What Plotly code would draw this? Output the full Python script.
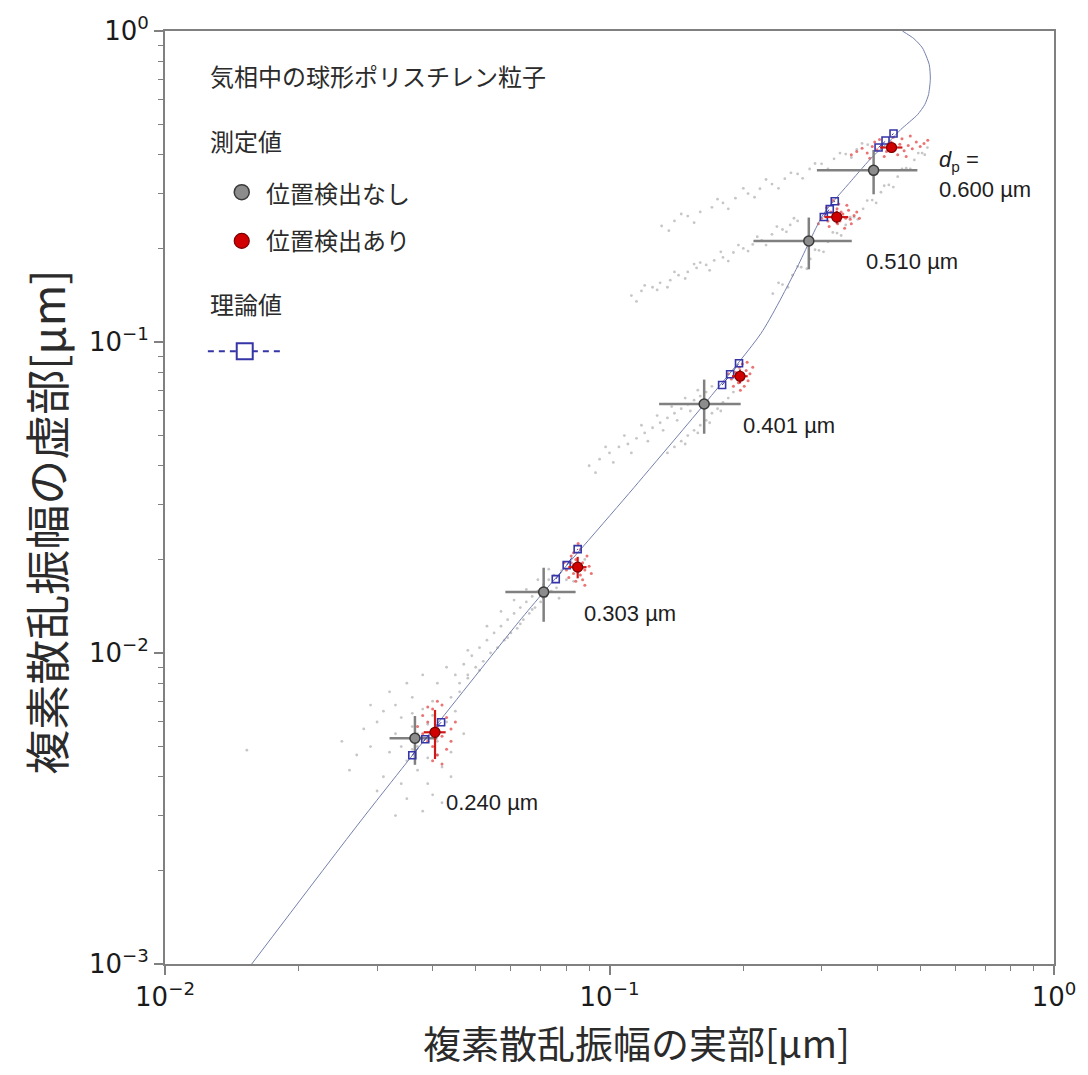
import plotly.graph_objects as go

# ---------------- data ----------------
size_labels = ["0.240 µm", "0.303 µm", "0.401 µm", "0.510 µm", "0.600 µm"]

# theoretical curve
curve_x = [0.01567, 0.0278, 0.0625, 0.0711, 0.116, 0.219, 0.2626, 0.303, 0.350, 0.391, 0.425, 0.452, 0.493, 0.512,
           0.522, 0.527, 0.524, 0.506, 0.484, 0.456]
curve_y = [0.001, 0.00293, 0.0126, 0.0157, 0.0353, 0.1064, 0.1706, 0.258, 0.330, 0.395, 0.440, 0.482, 0.538, 0.580,
           0.624, 0.700, 0.780, 0.882, 0.945, 1.0]

# theory values per particle size (squares)
theory_x = [[0.0360, 0.0385, 0.0418], [0.0757, 0.0801, 0.0848], [0.1792, 0.1868, 0.1956],
            [0.3035, 0.3130, 0.3212], [0.4030, 0.4178, 0.4355]]
theory_y = [[0.00469, 0.00528, 0.00599], [0.01728, 0.01916, 0.02157], [0.0727, 0.0788, 0.0854],
            [0.2522, 0.2675, 0.2836], [0.4221, 0.4444, 0.4680]]

# mean values without position detection (gray)
gray_mean_x = [0.0365, 0.0711, 0.1633, 0.2808, 0.3928]
gray_mean_y = [0.00532, 0.0157, 0.0632, 0.2113, 0.3565]
gray_err_x = [0.0045, 0.0128, 0.034, 0.070, 0.100]
gray_err_y = [0.00095, 0.0031, 0.0125, 0.040, 0.058]

# mean values with position detection (red)
red_mean_x = [0.0405, 0.0848, 0.1966, 0.3245, 0.4310]
red_mean_y = [0.00556, 0.01888, 0.0776, 0.2522, 0.4221]
red_err_x = [0.0023, 0.004, 0.008, 0.020, 0.025]
red_err_y = [0.0010, 0.0015, 0.004, 0.012, 0.015]

# individual particles, no position detection (gray dots)
gray_240_x = [0.030, 0.032, 0.034, 0.035, 0.036, 0.037, 0.038, 0.033, 0.039, 0.040, 0.041, 0.043, 0.044, 0.029, 0.027,
              0.031, 0.034, 0.037, 0.042, 0.045, 0.046, 0.036, 0.033, 0.031, 0.028, 0.026, 0.030, 0.035, 0.039, 0.041,
              0.038, 0.043, 0.047, 0.048, 0.040, 0.044, 0.032, 0.035, 0.029, 0.025, 0.033, 0.038, 0.042, 0.036, 0.037,
              0.034, 0.039, 0.040, 0.041, 0.036, 0.01528]
gray_240_y = [0.0060, 0.0048, 0.0062, 0.0045, 0.0058, 0.0050, 0.0066, 0.0055, 0.0046, 0.0070, 0.0052, 0.0060, 0.0048,
              0.0050, 0.0047, 0.0040, 0.0038, 0.0042, 0.0043, 0.0065, 0.0075, 0.0072, 0.0068, 0.0065, 0.0057, 0.0042,
              0.0036, 0.0034, 0.0038, 0.0080, 0.0085, 0.0090, 0.0055, 0.0085, 0.0035, 0.0040, 0.0075, 0.0080, 0.0068,
              0.0052, 0.0030, 0.0031, 0.0033, 0.0064, 0.0055, 0.0050, 0.0059, 0.0063, 0.0047, 0.0049, 0.00487]
gray_303_x = [0.044, 0.045, 0.046, 0.047, 0.048, 0.049, 0.050, 0.051, 0.052, 0.053, 0.054, 0.055, 0.056, 0.057, 0.058,
              0.059, 0.060, 0.061, 0.062, 0.063, 0.064, 0.065, 0.066, 0.067, 0.068, 0.069, 0.070, 0.071, 0.072, 0.073,
              0.074, 0.075, 0.076, 0.078, 0.080, 0.082, 0.085, 0.088, 0.053, 0.057, 0.061, 0.065, 0.069, 0.073, 0.059,
              0.063, 0.067, 0.071, 0.048, 0.051, 0.077, 0.083]
gray_303_y = [0.0072, 0.0085, 0.0080, 0.0092, 0.0083, 0.0098, 0.0090, 0.0104, 0.0094, 0.0110, 0.0100, 0.0116, 0.0104,
              0.0122, 0.0110, 0.0128, 0.0116, 0.0134, 0.0120, 0.0140, 0.0128, 0.0146, 0.0134, 0.0152, 0.0140, 0.0158,
              0.0146, 0.0166, 0.0152, 0.0172, 0.0158, 0.0178, 0.0162, 0.0184, 0.0172, 0.0190, 0.0182, 0.0200, 0.0122,
              0.0136, 0.0148, 0.0160, 0.0172, 0.0186, 0.0112, 0.0124, 0.0138, 0.0150, 0.0102, 0.0088, 0.0150, 0.0170]
gray_401_x = [0.090, 0.095, 0.100, 0.105, 0.110, 0.115, 0.120, 0.125, 0.130, 0.135, 0.140, 0.145, 0.150, 0.155, 0.160,
              0.165, 0.098, 0.108, 0.118, 0.128, 0.138, 0.148, 0.158, 0.102, 0.112, 0.122, 0.132, 0.142, 0.152, 0.162,
              0.093, 0.170, 0.140, 0.145, 0.150, 0.155, 0.160, 0.165, 0.170, 0.175, 0.180, 0.185, 0.190, 0.148, 0.158,
              0.168, 0.178, 0.135]
gray_401_y = [0.040, 0.042, 0.044, 0.046, 0.047, 0.049, 0.051, 0.053, 0.055, 0.057, 0.059, 0.061, 0.063, 0.065, 0.067,
              0.069, 0.046, 0.050, 0.054, 0.058, 0.062, 0.066, 0.070, 0.041, 0.044, 0.048, 0.052, 0.056, 0.060, 0.064,
              0.038, 0.072, 0.046, 0.048, 0.050, 0.052, 0.054, 0.056, 0.059, 0.061, 0.064, 0.066, 0.069, 0.047, 0.051,
              0.055, 0.060, 0.044]
gray_510_x = [0.112, 0.118, 0.125, 0.130, 0.137, 0.143, 0.150, 0.157, 0.165, 0.172, 0.180, 0.190, 0.200, 0.210, 0.220,
              0.232, 0.245, 0.255, 0.265, 0.120, 0.128, 0.140, 0.148, 0.160, 0.168, 0.178, 0.185, 0.195, 0.205, 0.215,
              0.225, 0.238, 0.250, 0.260, 0.115, 0.135, 0.155,
              0.233, 0.245, 0.258, 0.270, 0.283, 0.296, 0.310, 0.325, 0.340, 0.355, 0.240, 0.252, 0.265, 0.278, 0.290,
              0.303, 0.318, 0.332, 0.348]
gray_510_y = [0.141, 0.146, 0.150, 0.155, 0.158, 0.164, 0.168, 0.173, 0.177, 0.183, 0.187, 0.194, 0.200, 0.206, 0.212,
              0.222, 0.230, 0.238, 0.245, 0.152, 0.147, 0.168, 0.160, 0.180, 0.170, 0.195, 0.182, 0.205, 0.196, 0.218,
              0.205, 0.235, 0.226, 0.250, 0.135, 0.150, 0.178,
              0.143, 0.153, 0.164, 0.174, 0.185, 0.197, 0.210, 0.224, 0.238, 0.252, 0.155, 0.150, 0.175, 0.172, 0.198,
              0.195, 0.225, 0.220, 0.252]
gray_600_x = [0.131, 0.140, 0.150, 0.160, 0.170, 0.180, 0.192, 0.205, 0.218, 0.232, 0.248, 0.265, 0.282, 0.300, 0.320,
              0.340, 0.360, 0.381, 0.145, 0.155, 0.175, 0.185, 0.200, 0.212, 0.225, 0.240, 0.256, 0.272, 0.290, 0.310,
              0.330, 0.350, 0.370, 0.136,
              0.372, 0.390, 0.408, 0.425, 0.445, 0.465, 0.485, 0.505, 0.519, 0.362, 0.380, 0.398, 0.415, 0.435, 0.455,
              0.475, 0.495, 0.512]
gray_600_y = [0.236, 0.245, 0.254, 0.262, 0.271, 0.280, 0.290, 0.300, 0.311, 0.322, 0.335, 0.347, 0.360, 0.374, 0.388,
              0.402, 0.416, 0.431, 0.258, 0.242, 0.288, 0.268, 0.312, 0.292, 0.333, 0.312, 0.350, 0.336, 0.375, 0.360,
              0.405, 0.392, 0.435, 0.228,
              0.268, 0.286, 0.303, 0.320, 0.340, 0.362, 0.385, 0.405, 0.422, 0.248, 0.285, 0.280, 0.318, 0.315, 0.360,
              0.360, 0.405, 0.400]

# individual particles, with position detection (red dots)
red_240_x = [0.038, 0.039, 0.040, 0.041, 0.042, 0.043, 0.040, 0.041, 0.039, 0.042, 0.044, 0.038, 0.043, 0.040, 0.041,
             0.045, 0.037, 0.042, 0.039, 0.044]
red_240_y = [0.0055, 0.0060, 0.0050, 0.0058, 0.0054, 0.0062, 0.0066, 0.0047, 0.0052, 0.0068, 0.0057, 0.0063, 0.0049,
             0.0045, 0.0070, 0.0060, 0.0058, 0.0044, 0.0067, 0.0052]
red_303_x = [0.080, 0.082, 0.083, 0.084, 0.085, 0.086, 0.087, 0.088, 0.089, 0.090, 0.081, 0.083, 0.086, 0.084, 0.087,
             0.091, 0.079, 0.085, 0.088, 0.082, 0.086, 0.084, 0.083, 0.087]
red_303_y = [0.0185, 0.0195, 0.0180, 0.0200, 0.0188, 0.0178, 0.0195, 0.0185, 0.0205, 0.0190, 0.0175, 0.0210, 0.0215,
             0.0170, 0.0172, 0.0180, 0.0195, 0.0225, 0.0165, 0.0205, 0.0192, 0.0186, 0.0192, 0.0188]
red_401_x = [0.188, 0.192, 0.195, 0.198, 0.200, 0.203, 0.205, 0.190, 0.196, 0.201, 0.207, 0.193, 0.199, 0.185, 0.210,
             0.197, 0.204, 0.194]
red_401_y = [0.076, 0.080, 0.074, 0.079, 0.076, 0.081, 0.075, 0.072, 0.083, 0.072, 0.079, 0.077, 0.085, 0.079, 0.083,
             0.070, 0.086, 0.078]
red_510_x = [0.300, 0.305, 0.310, 0.315, 0.320, 0.325, 0.330, 0.335, 0.340, 0.345, 0.350, 0.355, 0.312, 0.328, 0.338,
             0.318, 0.295, 0.360, 0.322, 0.332, 0.308, 0.348, 0.326, 0.342, 0.365]
red_510_y = [0.250, 0.258, 0.245, 0.262, 0.250, 0.268, 0.245, 0.258, 0.250, 0.265, 0.240, 0.255, 0.235, 0.278, 0.232,
             0.285, 0.240, 0.262, 0.256, 0.262, 0.270, 0.248, 0.240, 0.275, 0.250]
red_600_x = [0.360, 0.370, 0.380, 0.390, 0.400, 0.410, 0.420, 0.430, 0.440, 0.450, 0.460, 0.470, 0.480, 0.490, 0.500,
             0.510, 0.395, 0.415, 0.435, 0.445, 0.455, 0.425, 0.405, 0.465, 0.385, 0.520, 0.350, 0.475]
red_600_y = [0.410, 0.420, 0.405, 0.425, 0.415, 0.430, 0.410, 0.440, 0.420, 0.432, 0.412, 0.428, 0.418, 0.440, 0.425,
             0.435, 0.440, 0.395, 0.455, 0.400, 0.450, 0.425, 0.448, 0.395, 0.390, 0.445, 0.400, 0.460]

# axis ticks
major_tickvals = [0.01, 0.1, 1]
major_ticktext_x = ["10<sup>−2</sup>", "10<sup>−1</sup>", "10<sup>0</sup>"]
y_tickvals = [0.001, 0.01, 0.1, 1]
y_ticktext = ["10<sup>−3</sup>", "10<sup>−2</sup>", "10<sup>−1</sup>", "10<sup>0</sup>"]
minor_x = [m * d for d in [0.01, 0.1] for m in range(2, 10)]
minor_y = [m * d for d in [0.001, 0.01, 0.1] for m in range(2, 10)]

x_title = "複素散乱振幅の実部[µm]"
y_title = "複素散乱振幅の虚部[µm]"

# ---------------- figure ----------------
GRAY_DOT = "rgba(120,120,120,0.42)"
RED_DOT = "rgba(225,40,40,0.65)"
BLUE = "#3535a8"
CJK = "Noto Sans CJK JP"

fig = go.Figure()

gray_sets = [(gray_240_x, gray_240_y), (gray_303_x, gray_303_y), (gray_401_x, gray_401_y),
             (gray_510_x, gray_510_y), (gray_600_x, gray_600_y)]
red_sets = [(red_240_x, red_240_y), (red_303_x, red_303_y), (red_401_x, red_401_y),
            (red_510_x, red_510_y), (red_600_x, red_600_y)]

for gx, gy in gray_sets:
    fig.add_trace(go.Scatter(x=gx, y=gy, mode="markers", showlegend=False, hoverinfo="skip",
                             marker=dict(size=2.8, color=GRAY_DOT)))
for rx, ry in red_sets:
    fig.add_trace(go.Scatter(x=rx, y=ry, mode="markers", showlegend=False, hoverinfo="skip",
                             marker=dict(size=3, color=RED_DOT)))

fig.add_trace(go.Scatter(x=curve_x, y=curve_y, mode="lines", showlegend=False,
                         line=dict(color="#7480ac", width=1, shape="spline", smoothing=0.6)))

fig.add_trace(go.Scatter(x=gray_mean_x, y=gray_mean_y, mode="markers", showlegend=False,
                         error_x=dict(type="data", array=gray_err_x, color="#808080", thickness=2.5, width=0),
                         error_y=dict(type="data", array=gray_err_y, color="#808080", thickness=2.5, width=0),
                         marker=dict(size=10, color="#8c8c8c", line=dict(color="#3a3a3a", width=1.5))))

for tx, ty in zip(theory_x, theory_y):
    fig.add_trace(go.Scatter(x=tx, y=ty, mode="lines+markers", showlegend=False,
                             line=dict(color=BLUE, width=1, dash="dash"),
                             marker=dict(symbol="square-open", size=7, color=BLUE, line=dict(width=1.6))))

fig.add_trace(go.Scatter(x=red_mean_x, y=red_mean_y, mode="markers", showlegend=False,
                         error_x=dict(type="data", array=red_err_x, color="#d01818", thickness=2.2, width=0),
                         error_y=dict(type="data", array=red_err_y, color="#d01818", thickness=2.2, width=0),
                         marker=dict(size=10, color="#d00000", line=dict(color="#7a0000", width=1.2))))

# ---------------- layout ----------------
L, R, T, B = 165, 31, 26, 111
W, H = 1088, 1075
PW, PH = W - L - R, H - T - B


def px(xp):
    return (xp - L) / PW


def py(yp):
    return (H - B - yp) / PH


annotations = []
label_font = dict(family="Liberation Sans, Arial", size=22, color="#1e1e1e")
label_pos = [(445, 802), (583, 612), (743, 423), (866, 258), (940, 185)]
for txt, (lx, ly) in zip(size_labels, label_pos):
    annotations.append(dict(xref="paper", yref="paper", x=px(lx), y=py(ly), text=txt, showarrow=False,
                            xanchor="left", yanchor="middle", font=label_font))
annotations.append(dict(xref="paper", yref="paper", x=px(940), y=py(157), text="<i>d</i><sub>p</sub> =",
                        showarrow=False, xanchor="left", yanchor="middle", font=label_font))

leg_font = dict(family=CJK, size=24, color="#2b2b2b")
legend_texts = [("気相中の球形ポリスチレン粒子", 208, 71), ("測定値", 208, 136), ("位置検出なし", 264, 188),
                ("位置検出あり", 264, 236), ("理論値", 208, 300)]
for txt, lx, ly in legend_texts:
    annotations.append(dict(xref="paper", yref="paper", x=px(lx), y=py(ly), text=txt, showarrow=False,
                            xanchor="left", yanchor="middle", font=leg_font))

# axis titles
annotations.append(dict(xref="paper", yref="paper", x=px(638), y=py(1042), text=x_title, showarrow=False,
                        xanchor="center", yanchor="middle",
                        font=dict(family=CJK, size=38, color="#2b2b2b")))
annotations.append(dict(xref="paper", yref="paper", x=px(45), y=py(520), text=y_title, showarrow=False,
                        xanchor="center", yanchor="middle", textangle=-90,
                        font=dict(family=CJK, size=45, color="#2b2b2b")))

shapes = [
    dict(type="circle", xref="paper", yref="paper", xsizemode="pixel", ysizemode="pixel",
         xanchor=px(242), yanchor=py(188), x0=-7.5, x1=7.5, y0=-7.5, y1=7.5,
         fillcolor="#8c8c8c", line=dict(color="#3a3a3a", width=1.5)),
    dict(type="circle", xref="paper", yref="paper", xsizemode="pixel", ysizemode="pixel",
         xanchor=px(242), yanchor=py(237), x0=-7.5, x1=7.5, y0=-7.5, y1=7.5,
         fillcolor="#d00000", line=dict(color="#7a0000", width=1.2)),
    dict(type="line", xref="paper", yref="paper", x0=px(208), x1=px(284), y0=py(348), y1=py(348),
         line=dict(color=BLUE, width=2, dash="6px,5px")),
    dict(type="rect", xref="paper", yref="paper", xsizemode="pixel", ysizemode="pixel",
         xanchor=px(245), yanchor=py(348), x0=-8, x1=8, y0=-8, y1=8,
         fillcolor="white", line=dict(color=BLUE, width=2)),
]

axis_common = dict(type="log", showline=True, linecolor="#808080", linewidth=2, mirror=True,
                   ticks="outside", ticklen=9, tickwidth=1.5, tickcolor="#808080",
                   showgrid=False, zeroline=False,
                   tickfont=dict(family="DejaVu Sans", size=26, color="#1a1a1a"))

fig.update_layout(
    width=W, height=H,
    margin=dict(l=L, r=R, t=T, b=B),
    paper_bgcolor="white", plot_bgcolor="white",
    showlegend=False,
    xaxis=dict(axis_common, range=[-2, 0], tickmode="array", tickvals=major_tickvals, ticktext=major_ticktext_x,
               minor=dict(tickmode="array", tickvals=minor_x, ticks="outside", ticklen=5, tickcolor="#808080",
                          tickwidth=1.2, showgrid=False)),
    yaxis=dict(axis_common, range=[-3, 0], tickmode="array", tickvals=y_tickvals, ticktext=y_ticktext,
               minor=dict(tickmode="array", tickvals=minor_y, ticks="outside", ticklen=5, tickcolor="#808080",
                          tickwidth=1.2, showgrid=False)),
    annotations=annotations,
    shapes=shapes,
)

fig.write_html("out.html", config={"displayModeBar": False},
               post_script="document.body.style.margin='0';document.body.style.overflow='hidden';")
